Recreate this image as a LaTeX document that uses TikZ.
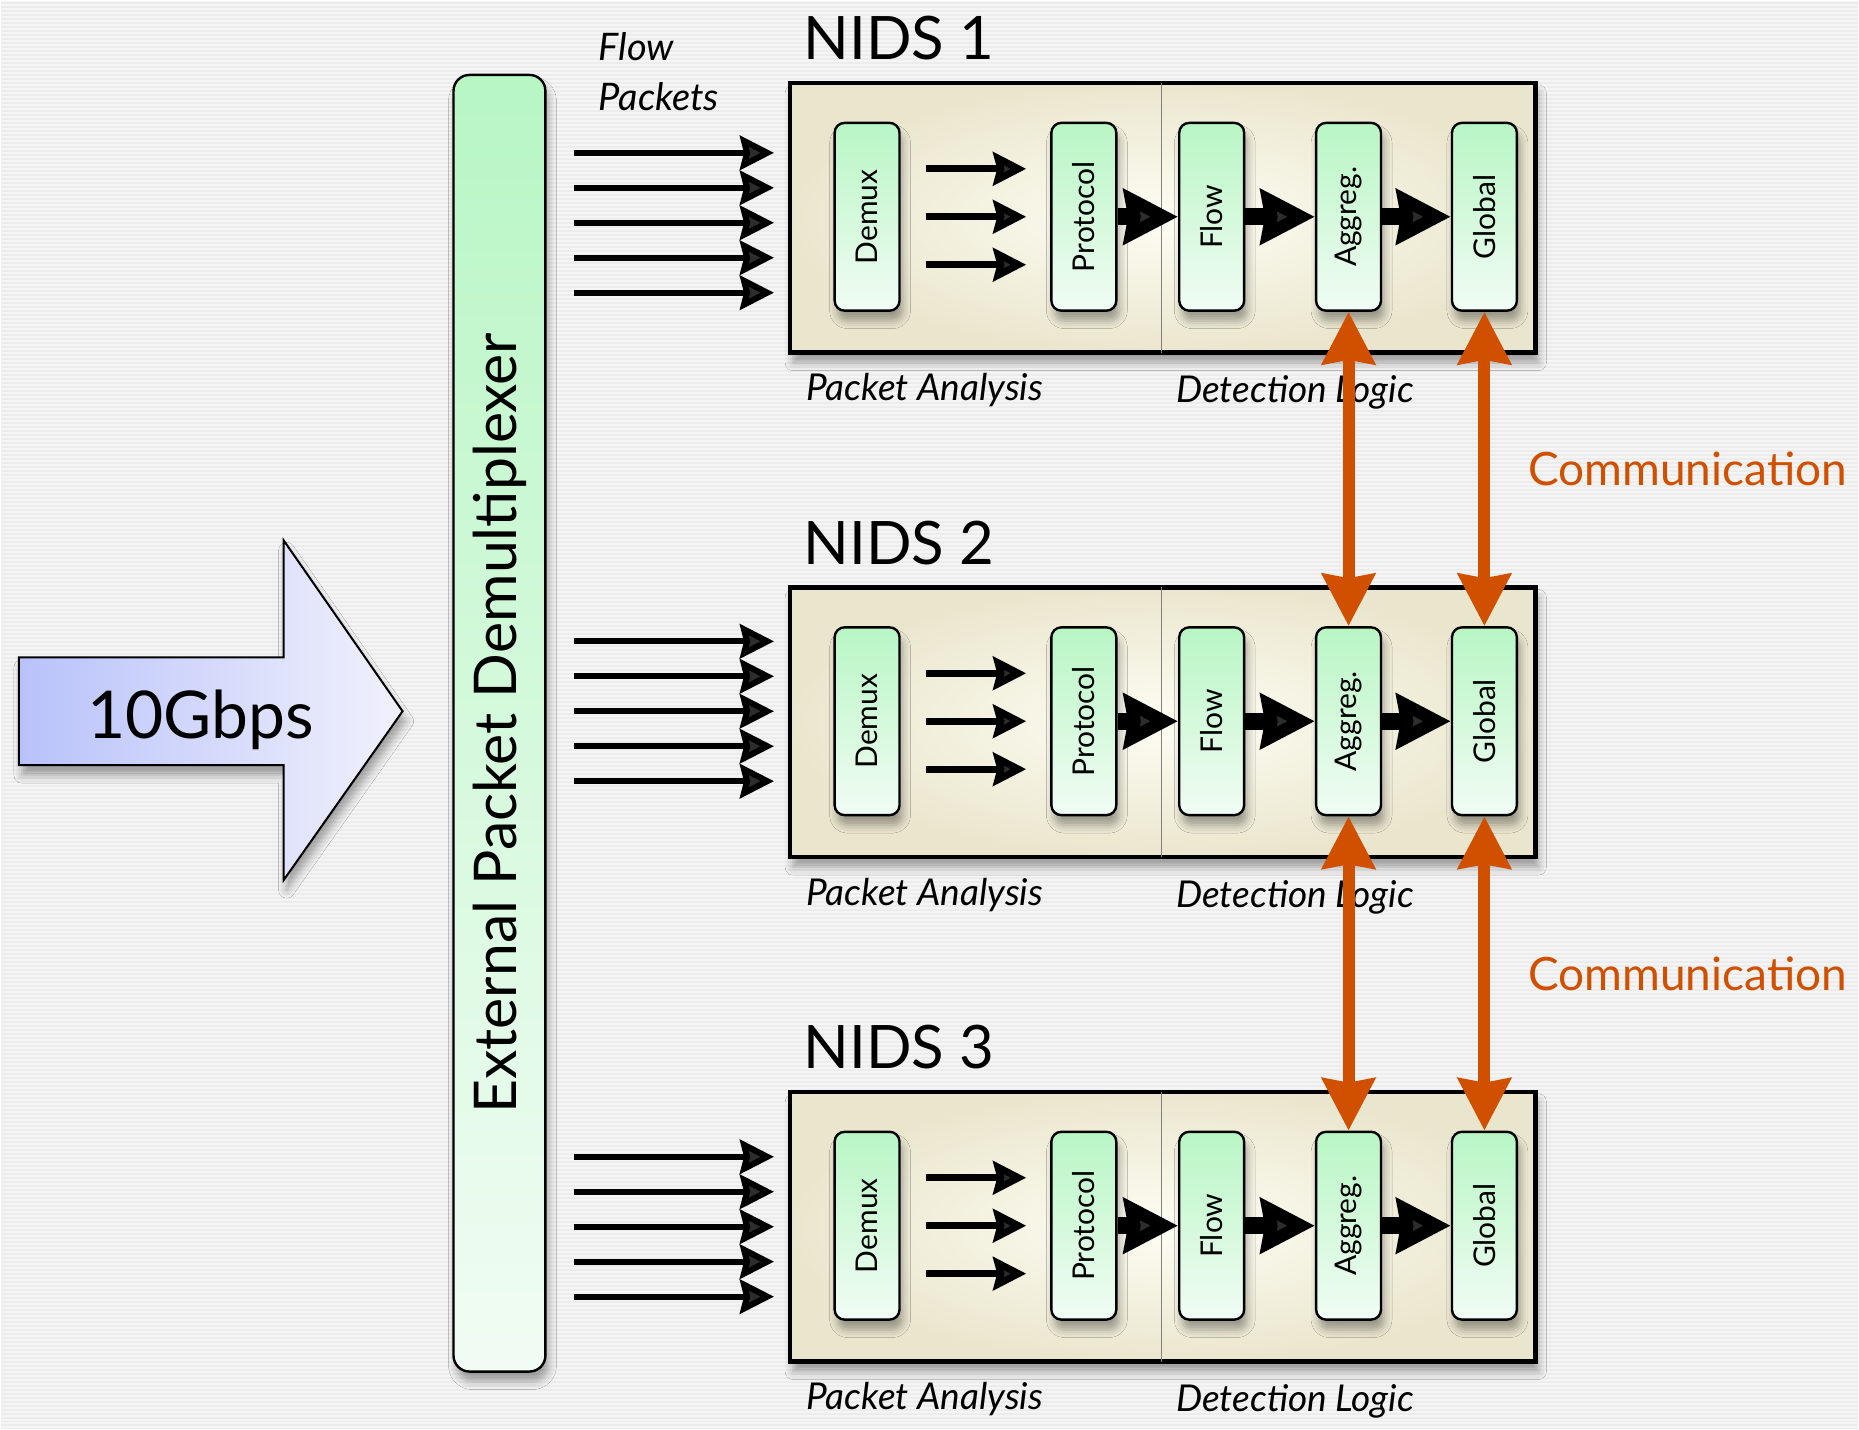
\documentclass[tikz,border=0pt]{standalone}
\usepackage{fontspec}
\setmainfont{Lato}
\usepackage{graphicx}
\usetikzlibrary{arrows.meta}
\usetikzlibrary{shadows.blur}

\definecolor{bgGray}{RGB}{236,236,236}
\definecolor{stageTop}{RGB}{184,246,196}
\definecolor{stageBot}{RGB}{241,252,244}
\definecolor{boxIn}{RGB}{254,253,243}
\definecolor{boxOut}{RGB}{234,230,206}
\definecolor{rateL}{RGB}{184,194,250}
\definecolor{rateR}{RGB}{241,241,252}
\definecolor{commOrange}{RGB}{208,80,0}

\begin{document}
\begin{tikzpicture}[x=0.5pt, y=-0.5pt,
		soft/.style={blur shadow={shadow xshift=1.5pt, shadow yshift=-5pt, shadow blur radius=4pt, shadow opacity=35}},
		stage/.style={draw, line width=1.2pt, rounded corners=5pt, top color=stageTop, bottom color=stageBot,
			minimum width=32.5pt, minimum height=94pt, inner sep=0pt, font=\fontsize{15}{15}\selectfont, soft},
		nids/.style={draw, line width=2.2pt, inner color=boxIn, outer color=boxOut,
			minimum width=373pt, minimum height=135pt, soft},
		packet/.style={line width=3pt, -{Stealth[length=17pt, width=17pt, inset=2pt]}, shorten <=13.5pt, shorten >=7pt},
		pass/.style={line width=3.5pt, -{Stealth[length=16.5pt, width=16.5pt, inset=2pt]}, shorten <=12.5pt, shorten >=12pt},
		push/.style={line width=8.5pt, -{Stealth[length=27pt, width=27pt, inset=2pt]}},
		comm/.style={commOrange, line width=6pt,
			{Stealth[length=26pt, width=26pt, inset=2pt]}-{Stealth[length=26pt, width=26pt, inset=2pt]}},
		title/.style={inner sep=0pt, anchor=base west, font=\fontsize{30}{30}\selectfont},
		part/.style={inner sep=0pt, anchor=base west, font=\fontsize{18.5}{18.5}\selectfont\itshape}]
	% background
	\fill[bgGray] (0,0) rectangle (1859,1430);
	\foreach \s in {0,4,...,1428}
		\draw[white, opacity=0.5, line width=1pt] (0,\s) -- (1859,\s);
	\useasboundingbox (0,0) rectangle (1859,1430);

	% incoming link
	\draw[line width=1pt, left color=rateL, right color=rateR, soft] (18,657) -- (283,657) -- (283,540) -- (402,711)
		-- (283,880) -- (283,765) -- (18,765) -- cycle;
	\node[anchor=base, inner sep=0pt, font=\fontsize{33}{33}\selectfont] (rate) at (200,738) {10Gbps};

	% external demultiplexer
	\node[draw, line width=1.2pt, rounded corners=8pt, top color=stageTop, bottom color=stageBot, minimum width=46pt,
		minimum height=649pt, inner sep=0pt, font=\fontsize{29.5}{29.5}\selectfont, soft] (extdemux) at (499,723)
		{\rotatebox{90}{External Packet Demultiplexer}};
	\node[anchor=north west, align=left, inner sep=0pt, font=\fontsize{19}{25}\selectfont\itshape] (fp) at (598,31) {Flow\\Packets};

	\foreach \n/\y/\a in {1/216/222, 2/721/711, 3/1226/1227} {
		\node[nids] (nids\n) at (1163,\y+1) {};
		\draw[gray, line width=0.6pt] (1162,\y-134) -- (1162,\y+136);
		\node[title] (nt\n) at (803,\y-157) {NIDS \n};
		\node[stage] (dmx\n) at (867,\y) {\rotatebox{90}{Demux}};
		\node[stage] (proto\n) at (1084,\y) {\rotatebox{90}{Protocol}};
		\node[stage] (flow\n) at (1212,\y) {\rotatebox{90}{Flow}};
		\node[stage] (aggr\n) at (1349,\y) {\rotatebox{90}{Aggreg.}};
		\node[stage] (glob\n) at (1485,\y) {\rotatebox{90}{Global}};
		\node[part] (pa\n) at (806,\y+184) {Packet Analysis};
		\node[part] (dl\n) at (1176,\y+186) {Detection Logic};
		\foreach \k in {-2,...,2} {
			\coordinate (lane) at (0,\a+35*\k);
			\draw[packet] (extdemux.east |- lane) -- (nids\n.west |- lane);
		}
		\foreach \o in {24,0,-24}
			\draw[pass] ([yshift=\o pt]dmx\n.east) -- ([yshift=\o pt]proto\n.west);
		\draw[push] (proto\n) -- (flow\n);
		\draw[push] (flow\n) -- (aggr\n);
		\draw[push] (aggr\n) -- (glob\n);
	}

	% coordination between sensors
	\draw[comm] (aggr1.south) -- (aggr2.north);
	\draw[comm] (glob1.south) -- node[right=19pt, inner sep=0pt, font=\fontsize{23}{23}\selectfont] (cm1) {Communication} (glob2.north);
	\draw[comm] (aggr2.south) -- (aggr3.north);
	\draw[comm] (glob2.south) -- node[right=19pt, inner sep=0pt, font=\fontsize{23}{23}\selectfont] (cm2) {Communication} (glob3.north);
\end{tikzpicture}
\end{document}
